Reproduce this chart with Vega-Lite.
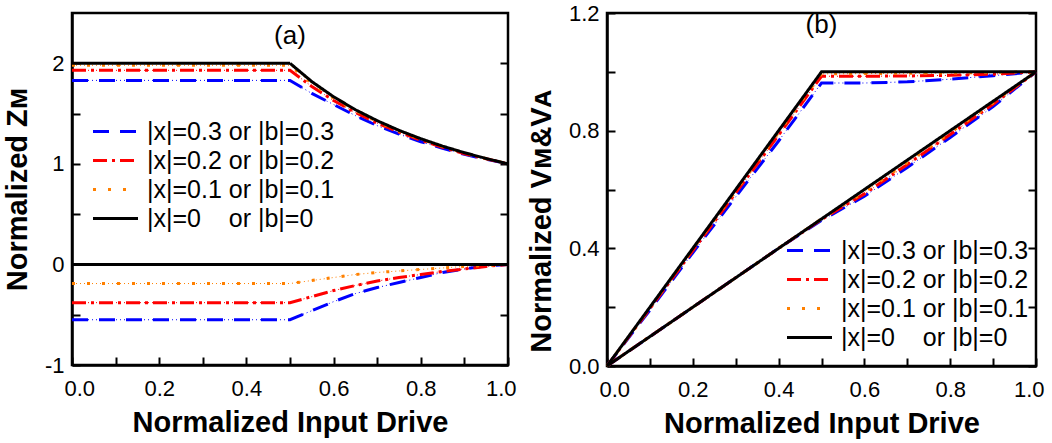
{
  "$schema": "https://vega.github.io/schema/vega-lite/v6.json",
  "padding": {"left": 2, "top": 0, "right": 5, "bottom": 3},
  "spacing": 8,
  "config": {
    "font": "Liberation Sans",
    "view": {"stroke": "black", "strokeWidth": 2.5},
    "axis": {
      "domainColor": "black", "domainWidth": 2.5, "tickColor": "black", "tickWidth": 2, "tickSize": -8,
      "labelFontSize": 22, "labelColor": "black", "labelFont": "Liberation Sans",
      "titleFontSize": 29, "titleFontWeight": "bold", "titleColor": "black", "titleFont": "Liberation Sans",
      "grid": false
    },
    "axisX": {"labelPadding": 21, "titlePadding": 9, "labelFlush": true, "labelFlushOffset": 8},
    "axisY": {"labelPadding": 16, "titlePadding": 12},
    "legend": {
      "labelFontSize": 25, "labelFont": "Liberation Sans", "labelColor": "black", "labelOffset": 19, "labelLimit": 400,
      "symbolType": "M-3,0H3", "symbolSize": 225, "symbolStrokeWidth": 3, "rowPadding": 3, "padding": 0
    },
    "title": {"font": "Liberation Sans", "fontSize": 26, "fontWeight": "normal", "color": "black", "anchor": "middle"}
  },
  "datasets": {
    "left": [
      {"x": 0, "y": 1.83, "s": "0.3", "g": "top"}, {"x": 0.5, "y": 1.83, "s": "0.3", "g": "top"}, {"x": 0.55, "y": 1.70, "s": "0.3", "g": "top"}, {"x": 0.6, "y": 1.59, "s": "0.3", "g": "top"}, {"x": 0.65, "y": 1.48, "s": "0.3", "g": "top"}, {"x": 0.7, "y": 1.38, "s": "0.3", "g": "top"}, {"x": 0.75, "y": 1.295, "s": "0.3", "g": "top"}, {"x": 0.8, "y": 1.22, "s": "0.3", "g": "top"}, {"x": 0.85, "y": 1.155, "s": "0.3", "g": "top"}, {"x": 0.9, "y": 1.095, "s": "0.3", "g": "top"}, {"x": 0.95, "y": 1.045, "s": "0.3", "g": "top"}, {"x": 1, "y": 1, "s": "0.3", "g": "top"},
      {"x": 0, "y": -0.55, "s": "0.3", "g": "bot"}, {"x": 0.5, "y": -0.55, "s": "0.3", "g": "bot"}, {"x": 0.55, "y": -0.46, "s": "0.3", "g": "bot"}, {"x": 0.6, "y": -0.37, "s": "0.3", "g": "bot"}, {"x": 0.65, "y": -0.29, "s": "0.3", "g": "bot"}, {"x": 0.7, "y": -0.23, "s": "0.3", "g": "bot"}, {"x": 0.75, "y": -0.18, "s": "0.3", "g": "bot"}, {"x": 0.8, "y": -0.13, "s": "0.3", "g": "bot"}, {"x": 0.85, "y": -0.08, "s": "0.3", "g": "bot"}, {"x": 0.9, "y": -0.045, "s": "0.3", "g": "bot"}, {"x": 0.95, "y": -0.015, "s": "0.3", "g": "bot"}, {"x": 1, "y": 0, "s": "0.3", "g": "bot"},
      {"x": 0, "y": 1.93, "s": "0.2", "g": "top"}, {"x": 0.5, "y": 1.93, "s": "0.2", "g": "top"}, {"x": 0.55, "y": 1.77, "s": "0.2", "g": "top"}, {"x": 0.6, "y": 1.63, "s": "0.2", "g": "top"}, {"x": 0.65, "y": 1.51, "s": "0.2", "g": "top"}, {"x": 0.7, "y": 1.405, "s": "0.2", "g": "top"}, {"x": 0.75, "y": 1.315, "s": "0.2", "g": "top"}, {"x": 0.8, "y": 1.235, "s": "0.2", "g": "top"}, {"x": 0.85, "y": 1.165, "s": "0.2", "g": "top"}, {"x": 0.9, "y": 1.10, "s": "0.2", "g": "top"}, {"x": 0.95, "y": 1.05, "s": "0.2", "g": "top"}, {"x": 1, "y": 1, "s": "0.2", "g": "top"},
      {"x": 0, "y": -0.38, "s": "0.2", "g": "bot"}, {"x": 0.5, "y": -0.38, "s": "0.2", "g": "bot"}, {"x": 0.55, "y": -0.32, "s": "0.2", "g": "bot"}, {"x": 0.6, "y": -0.26, "s": "0.2", "g": "bot"}, {"x": 0.65, "y": -0.21, "s": "0.2", "g": "bot"}, {"x": 0.7, "y": -0.165, "s": "0.2", "g": "bot"}, {"x": 0.75, "y": -0.13, "s": "0.2", "g": "bot"}, {"x": 0.8, "y": -0.10, "s": "0.2", "g": "bot"}, {"x": 0.85, "y": -0.07, "s": "0.2", "g": "bot"}, {"x": 0.9, "y": -0.045, "s": "0.2", "g": "bot"}, {"x": 0.95, "y": -0.02, "s": "0.2", "g": "bot"}, {"x": 1, "y": 0, "s": "0.2", "g": "bot"},
      {"x": 0, "y": 1.98, "s": "0.1", "g": "top"}, {"x": 0.5, "y": 1.98, "s": "0.1", "g": "top"}, {"x": 0.55, "y": 1.80, "s": "0.1", "g": "top"}, {"x": 0.6, "y": 1.655, "s": "0.1", "g": "top"}, {"x": 0.65, "y": 1.53, "s": "0.1", "g": "top"}, {"x": 0.7, "y": 1.42, "s": "0.1", "g": "top"}, {"x": 0.75, "y": 1.325, "s": "0.1", "g": "top"}, {"x": 0.8, "y": 1.245, "s": "0.1", "g": "top"}, {"x": 0.85, "y": 1.172, "s": "0.1", "g": "top"}, {"x": 0.9, "y": 1.108, "s": "0.1", "g": "top"}, {"x": 0.95, "y": 1.052, "s": "0.1", "g": "top"}, {"x": 1, "y": 1, "s": "0.1", "g": "top"},
      {"x": 0, "y": -0.19, "s": "0.1", "g": "bot"}, {"x": 0.5, "y": -0.19, "s": "0.1", "g": "bot"}, {"x": 0.55, "y": -0.16, "s": "0.1", "g": "bot"}, {"x": 0.6, "y": -0.13, "s": "0.1", "g": "bot"}, {"x": 0.65, "y": -0.10, "s": "0.1", "g": "bot"}, {"x": 0.7, "y": -0.08, "s": "0.1", "g": "bot"}, {"x": 0.75, "y": -0.065, "s": "0.1", "g": "bot"}, {"x": 0.8, "y": -0.05, "s": "0.1", "g": "bot"}, {"x": 0.85, "y": -0.035, "s": "0.1", "g": "bot"}, {"x": 0.9, "y": -0.02, "s": "0.1", "g": "bot"}, {"x": 0.95, "y": -0.01, "s": "0.1", "g": "bot"}, {"x": 1, "y": 0, "s": "0.1", "g": "bot"},
      {"x": 0, "y": 2, "s": "0", "g": "top"}, {"x": 0.5, "y": 2, "s": "0", "g": "top"}, {"x": 0.55, "y": 1.818, "s": "0", "g": "top"}, {"x": 0.6, "y": 1.667, "s": "0", "g": "top"}, {"x": 0.65, "y": 1.538, "s": "0", "g": "top"}, {"x": 0.7, "y": 1.429, "s": "0", "g": "top"}, {"x": 0.75, "y": 1.333, "s": "0", "g": "top"}, {"x": 0.8, "y": 1.25, "s": "0", "g": "top"}, {"x": 0.85, "y": 1.176, "s": "0", "g": "top"}, {"x": 0.9, "y": 1.111, "s": "0", "g": "top"}, {"x": 0.95, "y": 1.053, "s": "0", "g": "top"}, {"x": 1, "y": 1, "s": "0", "g": "top"},
      {"x": 0, "y": 0, "s": "0", "g": "bot"}, {"x": 1, "y": 0, "s": "0", "g": "bot"}
    ],
    "right": [
      {"x": 0, "y": 0, "s": "0.3", "g": "M"}, {"x": 0.1, "y": 0.19, "s": "0.3", "g": "M"}, {"x": 0.2, "y": 0.385, "s": "0.3", "g": "M"}, {"x": 0.3, "y": 0.575, "s": "0.3", "g": "M"}, {"x": 0.4, "y": 0.765, "s": "0.3", "g": "M"}, {"x": 0.5, "y": 0.962, "s": "0.3", "g": "M"}, {"x": 0.6, "y": 0.962, "s": "0.3", "g": "M"}, {"x": 0.7, "y": 0.966, "s": "0.3", "g": "M"}, {"x": 0.8, "y": 0.975, "s": "0.3", "g": "M"}, {"x": 0.9, "y": 0.987, "s": "0.3", "g": "M"}, {"x": 1, "y": 1, "s": "0.3", "g": "M"},
      {"x": 0, "y": 0, "s": "0.3", "g": "A"}, {"x": 0.1, "y": 0.1, "s": "0.3", "g": "A"}, {"x": 0.2, "y": 0.2, "s": "0.3", "g": "A"}, {"x": 0.3, "y": 0.3, "s": "0.3", "g": "A"}, {"x": 0.4, "y": 0.4, "s": "0.3", "g": "A"}, {"x": 0.5, "y": 0.495, "s": "0.3", "g": "A"}, {"x": 0.6, "y": 0.577, "s": "0.3", "g": "A"}, {"x": 0.7, "y": 0.675, "s": "0.3", "g": "A"}, {"x": 0.8, "y": 0.777, "s": "0.3", "g": "A"}, {"x": 0.9, "y": 0.882, "s": "0.3", "g": "A"}, {"x": 1, "y": 1, "s": "0.3", "g": "A"},
      {"x": 0, "y": 0, "s": "0.2", "g": "M"}, {"x": 0.1, "y": 0.195, "s": "0.2", "g": "M"}, {"x": 0.2, "y": 0.392, "s": "0.2", "g": "M"}, {"x": 0.3, "y": 0.588, "s": "0.2", "g": "M"}, {"x": 0.4, "y": 0.785, "s": "0.2", "g": "M"}, {"x": 0.5, "y": 0.985, "s": "0.2", "g": "M"}, {"x": 0.6, "y": 0.985, "s": "0.2", "g": "M"}, {"x": 0.7, "y": 0.986, "s": "0.2", "g": "M"}, {"x": 0.8, "y": 0.988, "s": "0.2", "g": "M"}, {"x": 0.9, "y": 0.992, "s": "0.2", "g": "M"}, {"x": 1, "y": 1, "s": "0.2", "g": "M"},
      {"x": 0, "y": 0, "s": "0.2", "g": "A"}, {"x": 0.1, "y": 0.1, "s": "0.2", "g": "A"}, {"x": 0.2, "y": 0.2, "s": "0.2", "g": "A"}, {"x": 0.3, "y": 0.3, "s": "0.2", "g": "A"}, {"x": 0.4, "y": 0.4, "s": "0.2", "g": "A"}, {"x": 0.5, "y": 0.498, "s": "0.2", "g": "A"}, {"x": 0.6, "y": 0.585, "s": "0.2", "g": "A"}, {"x": 0.7, "y": 0.685, "s": "0.2", "g": "A"}, {"x": 0.8, "y": 0.787, "s": "0.2", "g": "A"}, {"x": 0.9, "y": 0.89, "s": "0.2", "g": "A"}, {"x": 1, "y": 1, "s": "0.2", "g": "A"},
      {"x": 0, "y": 0, "s": "0.1", "g": "M"}, {"x": 0.1, "y": 0.198, "s": "0.1", "g": "M"}, {"x": 0.2, "y": 0.397, "s": "0.1", "g": "M"}, {"x": 0.3, "y": 0.595, "s": "0.1", "g": "M"}, {"x": 0.4, "y": 0.794, "s": "0.1", "g": "M"}, {"x": 0.5, "y": 0.993, "s": "0.1", "g": "M"}, {"x": 0.6, "y": 0.994, "s": "0.1", "g": "M"}, {"x": 0.7, "y": 0.995, "s": "0.1", "g": "M"}, {"x": 0.8, "y": 0.996, "s": "0.1", "g": "M"}, {"x": 0.9, "y": 0.998, "s": "0.1", "g": "M"}, {"x": 1, "y": 1, "s": "0.1", "g": "M"},
      {"x": 0, "y": 0, "s": "0.1", "g": "A"}, {"x": 0.1, "y": 0.1, "s": "0.1", "g": "A"}, {"x": 0.2, "y": 0.2, "s": "0.1", "g": "A"}, {"x": 0.3, "y": 0.3, "s": "0.1", "g": "A"}, {"x": 0.4, "y": 0.4, "s": "0.1", "g": "A"}, {"x": 0.5, "y": 0.5, "s": "0.1", "g": "A"}, {"x": 0.6, "y": 0.592, "s": "0.1", "g": "A"}, {"x": 0.7, "y": 0.692, "s": "0.1", "g": "A"}, {"x": 0.8, "y": 0.793, "s": "0.1", "g": "A"}, {"x": 0.9, "y": 0.895, "s": "0.1", "g": "A"}, {"x": 1, "y": 1, "s": "0.1", "g": "A"},
      {"x": 0, "y": 0, "s": "0", "g": "M"}, {"x": 0.5, "y": 1, "s": "0", "g": "M"}, {"x": 1, "y": 1, "s": "0", "g": "M"},
      {"x": 0, "y": 0, "s": "0", "g": "A"}, {"x": 1, "y": 1, "s": "0", "g": "A"}
    ]
  },
  "hconcat": [
    {
      "width": 436, "height": 352,
      "data": {"name": "left"},
      "title": {"text": "(a)", "offset": -36},
      "layer": [
        {
          "transform": [{"filter": "datum.s != '0'"}],
          "mark": {"type": "line", "strokeWidth": 1, "strokeDash": [1, 3]},
          "encoding": {
            "x": {"field": "x", "type": "quantitative", "scale": {"domain": [0, 1]}, "axis": null},
            "y": {"field": "y", "type": "quantitative", "scale": {"domain": [-1, 2.5], "nice": false, "zero": false},
                  "axis": {"orient": "right", "values": [-1, -0.5, 0, 0.5, 1, 1.5, 2], "labels": false, "domain": false, "title": null}},
            "stroke": {"field": "s", "type": "nominal", "scale": {"domain": ["0.3", "0.2", "0.1"], "range": ["#0000FF", "#FF0000", "#FF8000"]}, "legend": null},
            "detail": {"field": "g"}
          }
        },
        {
          "mark": {"type": "line", "strokeCap": "butt"},
          "encoding": {
            "x": {"field": "x", "type": "quantitative", "scale": {"domain": [0, 1]},
                  "axis": {"title": "Normalized Input Drive", "values": [0, 0.1, 0.2, 0.3, 0.4, 0.5, 0.6, 0.7, 0.8, 0.9, 1],
                           "labelExpr": "datum.value == 0 ? '0.0' : datum.value == 0.2 ? '0.2' : datum.value == 0.4 ? '0.4' : datum.value == 0.6 ? '0.6' : datum.value == 0.8 ? '0.8' : datum.value == 1 ? '1.0' : ''"}},
            "y": {"field": "y", "type": "quantitative", "scale": {"domain": [-1, 2.5], "nice": false, "zero": false},
                  "axis": {"title": "Normalized Zᴍ", "values": [-1, -0.5, 0, 0.5, 1, 1.5, 2],
                           "labelExpr": "datum.value == 2 ? '2' : datum.value == 1 ? '1' : datum.value == 0 ? '0' : datum.value == -1 ? '-1' : ''"}},
            "color": {"field": "s", "type": "nominal", "scale": {"domain": ["0.3", "0.2", "0.1", "0"], "range": ["#0000FF", "#FF0000", "#FF8000", "#000000"]},
                      "legend": {"title": null, "orient": "none", "legendX": 31, "legendY": 106,
                                 "labelExpr": "datum.value == '0.3' ? '|x|=0.3 or |b|=0.3' : datum.value == '0.2' ? '|x|=0.2 or |b|=0.2' : datum.value == '0.1' ? '|x|=0.1 or |b|=0.1' : '|x|=0\u00a0\u00a0\u00a0\u00a0or |b|=0'"}},
            "strokeDash": {"field": "s", "type": "nominal", "scale": {"domain": ["0.3", "0.2", "0.1", "0"], "range": [[16, 11], [14, 5, 3, 5], [3, 12], [1, 0]]},
                      "legend": {"title": null, "orient": "none", "legendX": 31, "legendY": 106,
                                 "labelExpr": "datum.value == '0.3' ? '|x|=0.3 or |b|=0.3' : datum.value == '0.2' ? '|x|=0.2 or |b|=0.2' : datum.value == '0.1' ? '|x|=0.1 or |b|=0.1' : '|x|=0\u00a0\u00a0\u00a0\u00a0or |b|=0'"}},
            "strokeWidth": {"field": "s", "type": "nominal", "scale": {"domain": ["0.3", "0.2", "0.1", "0"], "range": [3, 3, 3, 2.5]}, "legend": null},
            "detail": {"field": "g"}
          }
        }
      ],
      "resolve": {"axis": {"x": "independent", "y": "independent"}}
    },
    {
      "width": 429, "height": 353,
      "data": {"name": "right"},
      "title": {"text": "(b)", "offset": -36},
      "layer": [
        {
          "transform": [{"filter": "datum.s != '0'"}],
          "mark": {"type": "line", "strokeWidth": 1, "strokeDash": [1, 3]},
          "encoding": {
            "x": {"field": "x", "type": "quantitative", "scale": {"domain": [0, 1]}, "axis": null},
            "y": {"field": "y", "type": "quantitative", "scale": {"domain": [0, 1.2], "nice": false},
                  "axis": {"orient": "right", "values": [0, 0.2, 0.4, 0.6, 0.8, 1.0, 1.2], "labels": false, "domain": false, "title": null}},
            "stroke": {"field": "s", "type": "nominal", "scale": {"domain": ["0.3", "0.2", "0.1"], "range": ["#0000FF", "#FF0000", "#FF8000"]}, "legend": null},
            "detail": {"field": "g"}
          }
        },
        {
          "mark": {"type": "line", "strokeCap": "butt"},
          "encoding": {
            "x": {"field": "x", "type": "quantitative", "scale": {"domain": [0, 1]},
                  "axis": {"title": "Normalized Input Drive", "values": [0, 0.1, 0.2, 0.3, 0.4, 0.5, 0.6, 0.7, 0.8, 0.9, 1],
                           "labelExpr": "datum.value == 0 ? '0.0' : datum.value == 0.2 ? '0.2' : datum.value == 0.4 ? '0.4' : datum.value == 0.6 ? '0.6' : datum.value == 0.8 ? '0.8' : datum.value == 1 ? '1.0' : ''"}},
            "y": {"field": "y", "type": "quantitative", "scale": {"domain": [0, 1.2], "nice": false},
                  "axis": {"title": "Normalized Vᴍ&Vᴀ", "titleY": 208, "values": [0, 0.2, 0.4, 0.6, 0.8, 1.0, 1.2],
                           "labelExpr": "datum.value == 0 ? '0.0' : datum.value == 0.4 ? '0.4' : datum.value == 0.8 ? '0.8' : datum.value == 1.2 ? '1.2' : ''"}},
            "color": {"field": "s", "type": "nominal", "scale": {"domain": ["0.3", "0.2", "0.1", "0"], "range": ["#0000FF", "#FF0000", "#FF8000", "#000000"]},
                      "legend": {"title": null, "orient": "none", "legendX": 190, "legendY": 225,
                                 "labelExpr": "datum.value == '0.3' ? '|x|=0.3 or |b|=0.3' : datum.value == '0.2' ? '|x|=0.2 or |b|=0.2' : datum.value == '0.1' ? '|x|=0.1 or |b|=0.1' : '|x|=0\u00a0\u00a0\u00a0\u00a0or |b|=0'"}},
            "strokeDash": {"field": "s", "type": "nominal", "scale": {"domain": ["0.3", "0.2", "0.1", "0"], "range": [[16, 11], [14, 5, 3, 5], [3, 12], [1, 0]]},
                      "legend": {"title": null, "orient": "none", "legendX": 190, "legendY": 225,
                                 "labelExpr": "datum.value == '0.3' ? '|x|=0.3 or |b|=0.3' : datum.value == '0.2' ? '|x|=0.2 or |b|=0.2' : datum.value == '0.1' ? '|x|=0.1 or |b|=0.1' : '|x|=0\u00a0\u00a0\u00a0\u00a0or |b|=0'"}},
            "strokeWidth": {"field": "s", "type": "nominal", "scale": {"domain": ["0.3", "0.2", "0.1", "0"], "range": [3, 3, 3, 2.5]}, "legend": null},
            "detail": {"field": "g"}
          }
        }
      ],
      "resolve": {"axis": {"x": "independent", "y": "independent"}}
    }
  ],
  "resolve": {
    "scale": {"x": "independent", "y": "independent", "color": "independent", "stroke": "independent", "strokeDash": "independent", "strokeWidth": "independent"},
    "legend": {"color": "independent", "strokeDash": "independent"}
  }
}
